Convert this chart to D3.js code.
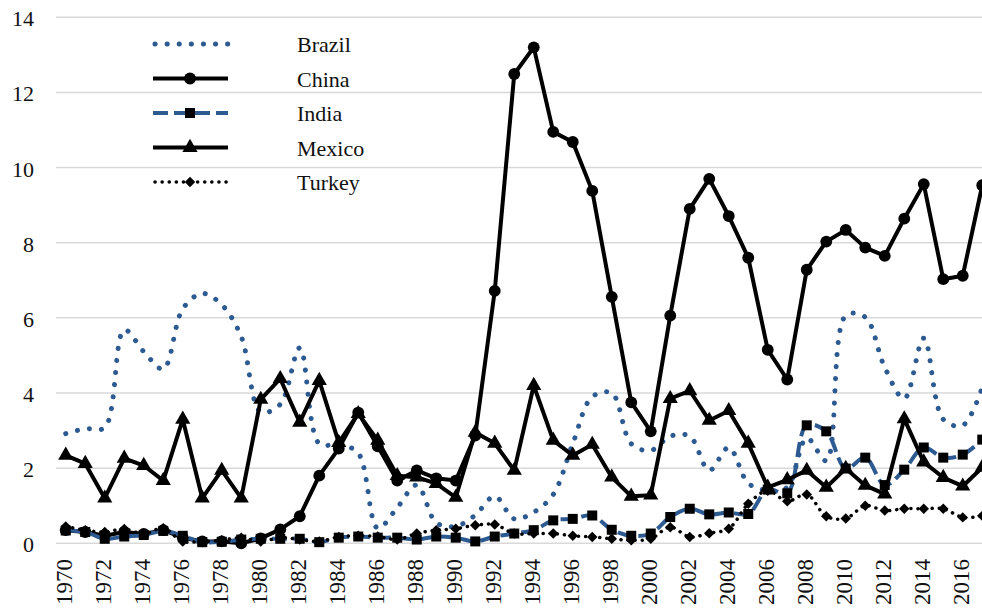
<!DOCTYPE html>
<html>
<head>
<meta charset="utf-8">
<script src="https://cdn.jsdelivr.net/npm/d3@7"></script>
<style>
  body { margin: 0; background: #fff; }
  svg { display: block; font-family: "Liberation Serif", "Times New Roman", serif; }
</style>
</head>
<body>
<svg width="982" height="612"></svg>
<script>
var years = d3.range(1970, 2018);
var yTicks = [0, 2, 4, 6, 8, 10, 12, 14];
var xTickYears = d3.range(1970, 2018, 2);

var brazil = [2.92, 3.05, 3.08, 5.68, 5.1, 4.64, 6.24, 6.65, 6.35, 5.5,
  3.5, 3.7, 5.2, 2.65, 2.63, 2.4, 0.4, 0.95, 1.55, 0.55,
  0.45, 0.75, 1.25, 0.65, 0.83, 1.3, 2.65, 3.9, 4.0, 2.65,
  2.47, 2.85, 2.85, 1.94, 2.55, 1.6, 1.41, 1.49, 2.8, 2.2,
  6.06, 6.02, 4.68, 3.85, 5.46, 3.3, 3.14, 4.15];
var china = [0.35, 0.3, 0.2, 0.3, 0.25, 0.35, 0.15, 0.05, 0.05, 0.0,
  0.13, 0.37, 0.72, 1.8, 2.52, 3.48, 2.58, 1.67, 1.94, 1.73,
  1.67, 2.87, 6.72, 12.49, 13.2, 10.95, 10.68, 9.38, 6.56, 3.75,
  2.98, 6.06, 8.9, 9.7, 8.71, 7.6, 5.15, 4.36, 7.28, 8.03,
  8.34, 7.87, 7.65, 8.64, 9.56, 7.03, 7.12, 9.53];
var india = [0.34, 0.3, 0.12, 0.18, 0.22, 0.33, 0.2, 0.03, 0.04, 0.1,
  0.12, 0.12, 0.12, 0.03, 0.15, 0.18, 0.15, 0.15, 0.1, 0.18,
  0.15, 0.05, 0.18, 0.26, 0.35, 0.61, 0.65, 0.74, 0.36, 0.2,
  0.26, 0.7, 0.92, 0.77, 0.82, 0.78, 1.43, 1.33, 3.14, 2.98,
  1.99, 2.28, 1.55, 1.96, 2.55, 2.28, 2.36, 2.76];
var mexico = [2.34, 2.12, 1.2, 2.26, 2.07, 1.67, 3.3, 1.2, 1.94, 1.2,
  3.83, 4.38, 3.22, 4.33, 2.68, 3.45, 2.74, 1.8, 1.76, 1.59,
  1.22, 2.95, 2.66, 1.94, 4.2, 2.74, 2.34, 2.63, 1.76, 1.25,
  1.28, 3.85, 4.06, 3.27, 3.53, 2.66, 1.49, 1.69, 1.94, 1.49,
  1.99, 1.54, 1.31, 3.31, 2.16, 1.75, 1.52, 2.02];
var turkey = [0.45, 0.35, 0.3, 0.38, 0.25, 0.4, 0.05, 0.05, 0.08, 0.15,
  0.05, 0.15, 0.1, 0.05, 0.17, 0.2, 0.18, 0.1, 0.26, 0.35,
  0.39, 0.48, 0.5, 0.26, 0.26, 0.26, 0.2, 0.17, 0.12, 0.08,
  0.12, 0.43, 0.17, 0.27, 0.39, 1.05, 1.4, 1.12, 1.3, 0.72,
  0.66, 1.0, 0.87, 0.92, 0.92, 0.92, 0.69, 0.73];

var blue = "#2c5a91";

// drawing order follows the legend order
var series = [
  {name: "Brazil", values: brazil, color: blue, width: 5, dash: "0.1,12", cap: "round", smooth: true, marker: null},
  {name: "China", values: china, color: "#000", width: 4, dash: null, cap: "butt", smooth: false, marker: "circle"},
  {name: "India", values: india, color: blue, width: 4, dash: "15,6", cap: "butt", smooth: true, marker: "square"},
  {name: "Mexico", values: mexico, color: "#000", width: 4, dash: null, cap: "butt", smooth: false, marker: "triangle"},
  {name: "Turkey", values: turkey, color: "#000", width: 3.5, dash: "0.1,7", cap: "round", smooth: true, marker: "diamond"}
];

var markerSymbol = {
  circle: d3.symbol().type(d3.symbolCircle).size(110),
  square: d3.symbol().type(d3.symbolSquare).size(100),
  triangle: d3.symbol().type(d3.symbolTriangle).size(100),
  diamond: d3.symbol().type(d3.symbolSquare).size(55)
};
// diamonds are squares turned 45 degrees
var markerRotate = {circle: 0, square: 0, triangle: 0, diamond: 45};

var svg = d3.select("svg");

var x = d3.scaleLinear().domain([1969.5, 2017.5]).range([56, 992]);
var y = d3.scaleLinear().domain([0, 14]).range([543.3, 17.3]);

// gridlines
svg.append("g")
  .selectAll("line")
  .data(yTicks)
  .enter()
  .append("line")
  .attr("x1", 56)
  .attr("x2", 982)
  .attr("y1", d => y(d))
  .attr("y2", d => y(d))
  .attr("stroke", "#d9d9d9")
  .attr("stroke-width", 1.5);

// y labels
svg.append("g")
  .selectAll("text")
  .data(yTicks)
  .enter()
  .append("text")
  .attr("x", 34)
  .attr("y", d => y(d) + 4)
  .attr("text-anchor", "end")
  .attr("dominant-baseline", "middle")
  .attr("font-size", 22)
  .attr("fill", "#111")
  .text(d => d);

// x labels, rotated
svg.append("g")
  .selectAll("text")
  .data(xTickYears)
  .enter()
  .append("text")
  .attr("transform", d => "translate(" + (x(d) + 1) + ",559) rotate(-90)")
  .attr("text-anchor", "end")
  .attr("dominant-baseline", "middle")
  .attr("font-size", 23)
  .attr("fill", "#111")
  .text(d => d);

var plot = svg.append("g");

series.forEach(function(s) {
  var line = d3.line()
    .x((d, i) => x(years[i]))
    .y(d => y(d))
    .curve(s.smooth ? d3.curveCatmullRom.alpha(0.5) : d3.curveLinear);

  plot.append("path")
    .datum(s.values)
    .attr("d", line)
    .attr("fill", "none")
    .attr("stroke", s.color)
    .attr("stroke-width", s.width)
    .attr("stroke-linecap", s.cap)
    .attr("stroke-linejoin", "round")
    .attr("stroke-dasharray", s.dash);

  if (s.marker) {
    plot.append("g")
      .selectAll("path")
      .data(s.values)
      .enter()
      .append("path")
      .attr("d", markerSymbol[s.marker])
      .attr("transform", (d, i) => "translate(" + x(years[i]) + "," + y(d) + ") rotate(" + markerRotate[s.marker] + ")")
      .attr("fill", "#000");
  }
});

// legend
var legend = svg.append("g");
var legendRow = legend.selectAll("g")
  .data(series)
  .enter()
  .append("g")
  .attr("transform", (d, i) => "translate(0," + (44 + i * 34.5) + ")");

legendRow.append("line")
  .attr("x1", d => d.cap == "round" ? 155 : 153)
  .attr("x2", 228)
  .attr("y1", 0)
  .attr("y2", 0)
  .attr("stroke", d => d.color)
  .attr("stroke-width", d => d.width)
  .attr("stroke-linecap", d => d.cap)
  .attr("stroke-dasharray", d => d.dash);

legendRow.filter(d => d.marker)
  .append("path")
  .attr("d", d => markerSymbol[d.marker]())
  .attr("transform", d => "translate(190,0) rotate(" + markerRotate[d.marker] + ")")
  .attr("fill", "#000");

legendRow.append("text")
  .attr("x", 297)
  .attr("y", 3)
  .attr("dominant-baseline", "middle")
  .attr("font-size", 22)
  .attr("fill", "#111")
  .text(d => d.name);
</script>
</body>
</html>
